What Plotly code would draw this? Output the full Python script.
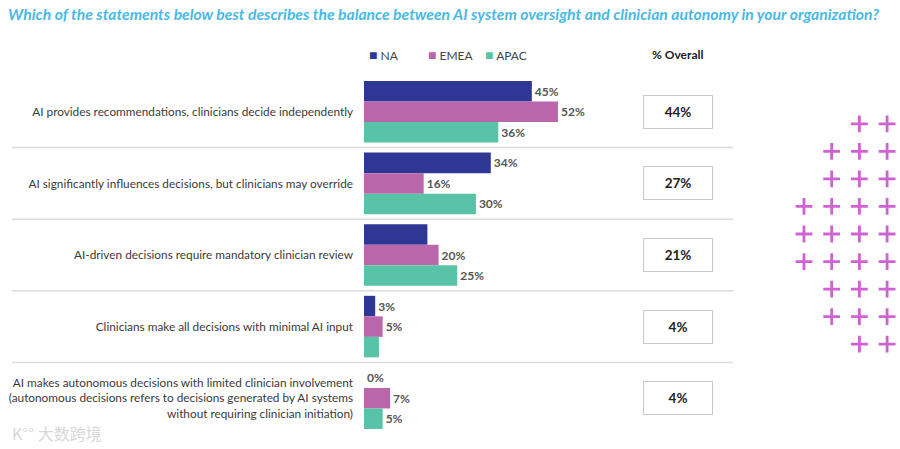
import plotly.graph_objects as go

title_text = ("Which of the statements below best describes the balance between "
              "AI system oversight and clinician autonomy in your organization?")

statements = [
    "AI provides recommendations, clinicians decide independently",
    "AI significantly influences decisions, but clinicians may override",
    "AI-driven decisions require mandatory clinician review",
    "Clinicians make all decisions with minimal AI input",
    "AI makes autonomous decisions with limited clinician involvement<br>"
    "(autonomous decisions refers to decisions generated by AI systems<br>"
    "without requiring clinician initiation)",
]

regions = ["NA", "EMEA", "APAC"]
na_vals = [45, 34, 17, 3, 0]
emea_vals = [52, 16, 20, 5, 7]
apac_vals = [36, 30, 25, 4, 5]
overall_vals = [44, 27, 21, 4, 4]

# labels that the source leaves out
hidden_labels = {("NA", 2), ("APAC", 3)}

colors = {"NA": "#2f3795", "EMEA": "#b967aa", "APAC": "#58c3a7"}
legend_x = {"NA": 0.0056, "EMEA": 0.1168, "APAC": 0.224}
header_y = (434 - 55) / 358  # legend row, in paper units

# decorative cross pattern: first column used in each row (4 columns, rows 1..9)
deco_first_col = [2, 1, 1, 0, 0, 0, 1, 1, 2]

fig = go.Figure()

for name, vals in zip(regions, [na_vals, emea_vals, apac_vals]):
    labels = ["" if (name, i) in hidden_labels else f"{v}%" for i, v in enumerate(vals)]
    fig.add_trace(go.Bar(
        y=list(range(len(statements))),
        x=vals,
        orientation="h",
        name=name,
        marker=dict(color=colors[name], line=dict(width=0)),
        text=labels,
        textposition="outside",
        textfont=dict(family="Lato", size=12, color="#555555", weight="bold"),
        cliponaxis=False,
        hoverinfo="skip",
        showlegend=False,
    ))
    # legend entry drawn as text
    fig.add_annotation(
        x=legend_x[name], xref="paper", y=header_y, yref="paper", yanchor="middle",
        xanchor="left", showarrow=False,
        text=f"<span style='color:{colors[name]};font-size:14px'>■</span> {name}",
        font=dict(family="Lato", size=12, color="#444444"),
    )

deco_x = []
deco_y = []
for r, c0 in enumerate(deco_first_col, start=1):
    for c in range(c0, 4):
        deco_x.append(c)
        deco_y.append(r)

fig.add_trace(go.Scatter(
    x=deco_x, y=deco_y, xaxis="x2", yaxis="y2",
    mode="markers", cliponaxis=False,
    marker=dict(symbol="cross-thin", size=12, line=dict(width=2.8, color="#cf62d3")),
    showlegend=False, hoverinfo="skip",
))

# overall boxes
for i, v in enumerate(overall_vals):
    fig.add_annotation(
        x=0.592, xref="paper", y=i, yref="y",
        text=f"<b>{v}%</b>", showarrow=False,
        font=dict(family="Lato", size=13.5, color="#222222"),
        width=66, height=30, bordercolor="#c8c8c8", borderwidth=1,
        bgcolor="white",
    )

# separators between statements
for i in range(len(statements) - 1):
    fig.add_shape(
        type="line", xref="paper", yref="y",
        x0=-0.663, x1=0.695, y0=i + 0.5, y1=i + 0.5,
        line=dict(color="#dcdcdc", width=1.5),
    )

fig.add_annotation(
    x=0.591, xref="paper", y=header_y, yref="paper", yanchor="middle",
    text="<b>% Overall</b>", showarrow=False,
    font=dict(family="Lato", size=12, color="#222222"),
)

fig.add_annotation(
    x=-0.667, xref="paper", y=0.004, yref="paper", xanchor="left", yanchor="middle",
    text="K°° 大数跨境", showarrow=False,
    font=dict(family="Noto Sans CJK SC", size=16, color="#d8d8d8"),
)

fig.update_layout(
    width=900, height=449,
    paper_bgcolor="white", plot_bgcolor="white",
    margin=dict(l=364, r=5, t=76, b=15),
    barmode="group", bargap=0.14, bargroupgap=0,
    title=dict(
        text=title_text, x=0.009, xanchor="left", y=1 - 15 / 449, yanchor="middle",
        font=dict(family="Lato", size=15.7, color="#4ab9e4", style="italic", weight="bold"),
    ),
    showlegend=False,
    xaxis=dict(domain=[0, 0.7024], range=[0, 100], visible=False, automargin=False),
    yaxis=dict(
        range=[4.5, -0.5], tickmode="array",
        tickvals=list(range(len(statements))), ticktext=statements,
        tickfont=dict(family="Lato", size=11.8, color="#3a3a3a"),
        showgrid=False, zeroline=False, showline=False, ticks="",
        ticklabelstandoff=10, automargin=False,
    ),
    xaxis2=dict(domain=[0.76, 1], range=[-1.314, 3.285], visible=False,
                anchor="y2", automargin=False),
    yaxis2=dict(domain=[0, 1], range=[12.26, -0.736], visible=False,
                anchor="x2", automargin=False),
)

# drop the page's default body margin so the figure sits at the top-left corner
fig.write_html("out.html", config={"displayModeBar": False},
               post_script="document.body.style.margin = '0';")
